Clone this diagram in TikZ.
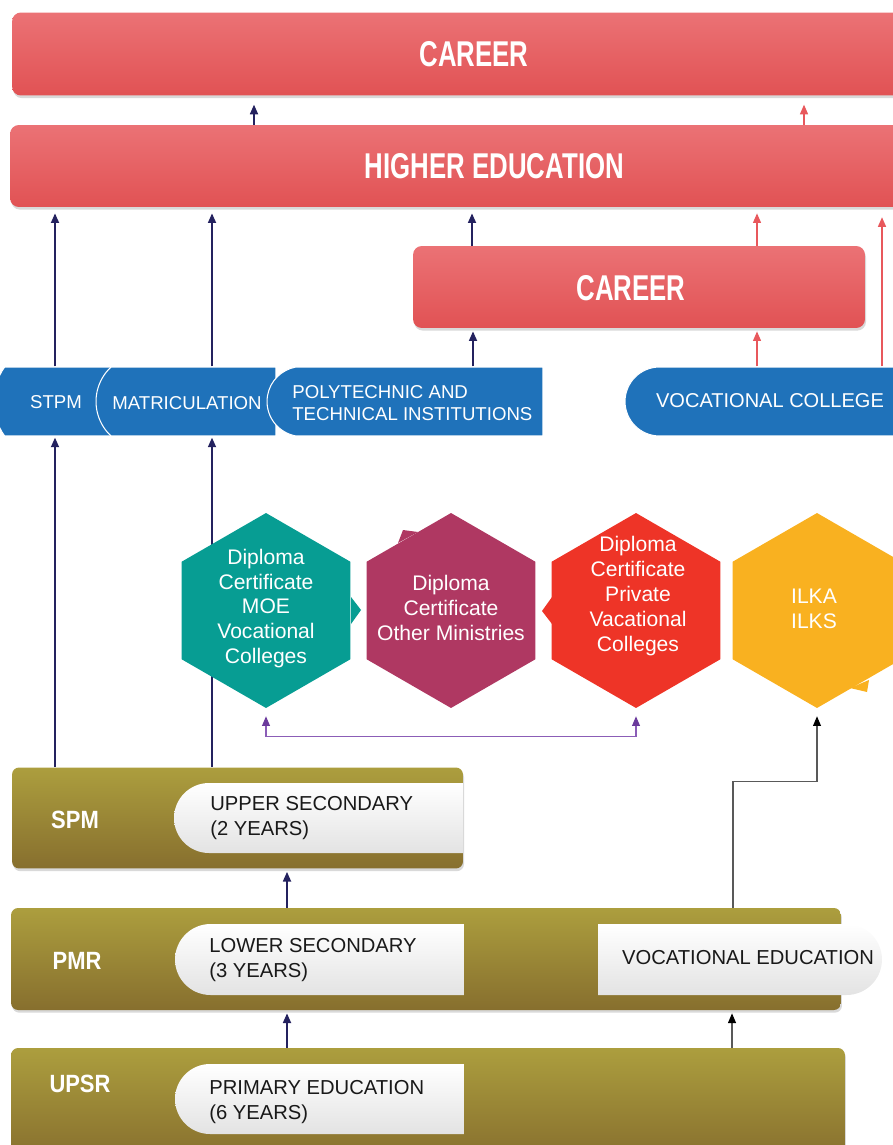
\documentclass[tikz,border=0pt]{standalone}
\usepackage{fontspec}
\setmainfont{Liberation Sans}
\newfontfamily\headfont{Liberation Sans Bold}[FakeStretch=0.72]
\newfontfamily\lblfont{Liberation Sans Bold}[FakeStretch=0.88]
\usepackage{tikz}
\usetikzlibrary{shapes.geometric, shapes.misc, arrows.meta, shadows, calc}

\definecolor{barred}{HTML}{EB7275}
\definecolor{barreddk}{HTML}{E15254}
\definecolor{tabblue}{HTML}{1F72BA}
\definecolor{hexteal}{HTML}{079D93}
\definecolor{hexplum}{HTML}{AF3862}
\definecolor{hexred}{HTML}{EE3427}
\definecolor{hexyel}{HTML}{F9B120}
\definecolor{arrnavy}{HTML}{24225F}
\definecolor{arrred}{HTML}{E8585C}
\definecolor{purline}{HTML}{8B5DB7}
\definecolor{purtip}{HTML}{6B3A9C}
\definecolor{goldlt}{HTML}{AC9E3E}
\definecolor{golddk}{HTML}{876F2E}

\begin{document}
\begin{tikzpicture}[
    x=0.02cm, y=-0.02cm,
    redbar/.style={rectangle, rounded corners=5pt, top color=barred, bottom color=barreddk, text=white, font=\headfont\fontsize{20.4}{24}\selectfont, drop shadow={shadow xshift=0.6pt, shadow yshift=-1.5pt, opacity=0.3}},
    headtext/.style={text=white, font=\headfont\fontsize{20.4}{24}\selectfont},
    tab/.style={rounded rectangle, rounded rectangle east arc=none, fill=tabblue, draw=white, line width=0.6pt, minimum height=1.38cm, inner sep=0pt, text=white, align=left, font=\fontsize{10.5}{12.5}\selectfont},
    tabtext/.style={text=white, align=left, inner sep=0pt, font=\fontsize{10.6}{12.5}\selectfont},
    hexa/.style={regular polygon, regular polygon sides=6, shape border rotate=90, minimum size=3.9cm, inner sep=0pt},
    hextext/.style={text=white, align=center, font=\fontsize{12}{14.2}\selectfont},
    goldbar/.style={rectangle, rounded corners=4pt, top color=goldlt, bottom color=golddk, drop shadow={shadow xshift=0.6pt, shadow yshift=-1.5pt, opacity=0.3}},
    inbox/.style={rounded rectangle, rounded rectangle east arc=none, top color=white, bottom color=black!11, minimum height=1.4cm, inner sep=0pt},
    intext/.style={anchor=west, align=left, inner sep=0pt, text=black!90, font=\fontsize{11.5}{14.2}\selectfont},
    lbl/.style={text=white, font=\lblfont\fontsize{14.2}{16}\selectfont},
    navyarr/.style={-{Triangle[length=5.5pt, width=4.5pt]}, line width=1.1pt, arrnavy, shorten >=1.7pt},
    redarr/.style={-{Triangle[length=5.5pt, width=4.5pt]}, line width=0.9pt, arrred, shorten >=1.7pt},
    greyarr/.style={-{Triangle[length=5.5pt, width=4.5pt, color=black]}, line width=0.6pt, black!65, shorten >=1.7pt},
    purparr/.style={{Triangle[length=5.5pt, width=4.5pt, color=purtip]}-{Triangle[length=5.5pt, width=4.5pt, color=purtip]}, line width=0.6pt, purline, shorten <=4.5pt, shorten >=4.5pt}
]
\useasboundingbox (0,0) rectangle (892,1145);

% red bars
\node[redbar, minimum width=18.48cm, minimum height=1.66cm] (career) at (474,54) {CAREER};
\node[redbar, minimum width=19.38cm, minimum height=1.64cm] (highered) at (494.5,166) {HIGHER EDUCATION};
\node[redbar, minimum width=9.04cm, minimum height=1.64cm] (career2) at (639,287) {};
\node[headtext] (career2-t) at (631,288) {CAREER};

% blue tabs
\node[tab, minimum width=1.96cm, rounded rectangle arc length=71] (stpm) at (53,401.5) {};
\node[tab, minimum width=3.6cm, rounded rectangle arc length=94] (matric) at (186,401.5) {};
\node[tab, minimum width=5.52cm, rounded rectangle arc length=160] (poly) at (405,401.5) {};
\node[tab, minimum width=5.8cm] (vcollege) at (770,401.5) {};
\node[tabtext] (stpm-t) at (56,402) {STPM};
\node[tabtext] (matric-t) at (187,403) {MATRICULATION};
\node[tabtext, anchor=west] (poly-t) at (292,403) {POLYTECHNIC AND\\TECHNICAL INSTITUTIONS};
\node[tabtext, font=\fontsize{11.4}{13}\selectfont] (vcollege-t) at (770,401) {VOCATIONAL COLLEGE};

% gold bars
\node[goldbar, minimum width=9.02cm, minimum height=2.02cm] (spm) at (237.5,818) {};
\node[inbox, minimum width=5.78cm] (upsec) at (318.5,818) {};
\node[lbl] (spm-l) at (75,820) {SPM};
\node[intext] (upsec-t) at (210,818.5) {UPPER SECONDARY\\(2 YEARS)};

\node[goldbar, minimum width=16.6cm, minimum height=2.04cm] (pmr) at (426,959) {};
\node[inbox, minimum width=5.78cm, minimum height=1.42cm] (lowsec) at (319.5,959.5) {};
\node[inbox, rounded rectangle west arc=none, rounded rectangle east arc=convex, minimum width=5.68cm, minimum height=1.42cm] (voced) at (740,959.5) {};
\node[lbl] (pmr-l) at (77,961) {PMR};
\node[intext] (lowsec-t) at (209,960) {LOWER SECONDARY\\(3 YEARS)};
\node[intext, anchor=center] (voced-t) at (748,958) {VOCATIONAL EDUCATION};

\node[goldbar, minimum width=16.68cm, minimum height=2.24cm] (upsr) at (428,1104) {};
\node[inbox, minimum width=5.78cm] (primary) at (319.5,1099) {};
\node[lbl] (upsr-l) at (80,1084) {UPSR};
\node[intext] (primary-t) at (209,1102) {PRIMARY EDUCATION\\(6 YEARS)};

% upward links
\draw[navyarr, shorten >=5pt] (254,0 |- highered.north) -- (254,0 |- career.south);
\draw[redarr, shorten >=5pt] (804,0 |- highered.north) -- (804,0 |- career.south);
\draw[navyarr, shorten >=3.4pt] (55,0 |- stpm.north) -- (55,0 |- highered.south);
\draw[navyarr, shorten >=3.4pt] (212,0 |- matric.north) -- (212,0 |- highered.south);
\draw[navyarr, shorten >=3.4pt] (472,0 |- career2.north) -- (472,0 |- highered.south);
\draw[redarr, shorten >=3.4pt] (757,0 |- career2.north) -- (757,0 |- highered.south);
\draw[redarr, shorten >=5.6pt] (882,0 |- vcollege.north) -- (882,0 |- highered.south);
\draw[navyarr] (473,0 |- poly.north) -- (473,0 |- career2.south);
\draw[redarr] (757,0 |- vcollege.north) -- (757,0 |- career2.south);
\draw[navyarr, shorten >=0.6pt] (55,0 |- spm.north) -- (55,0 |- stpm.south);
\draw[navyarr, shorten >=0.6pt] (212,0 |- spm.north) -- (212,0 |- matric.south);
\draw[navyarr] (287,0 |- pmr.north) -- (287,0 |- spm.south);
\draw[navyarr] (287,0 |- upsr.north) -- (287,0 |- pmr.south);
\draw[greyarr] (732,0 |- upsr.north) -- (732,0 |- pmr.south);

% hexagons
\node[hexa, fill=hexteal] (moe) at (266,610.5) {};
\node[hexa, fill=hexplum] (othermin) at (451,610.5) {};
\node[hexa, fill=hexred] (privcol) at (636,610.5) {};
\node[hexa, fill=hexyel] (ilka) at (817,610.5) {};
\fill[hexteal] (351,597) -- (361,610) -- (351,624) -- cycle;
\fill[hexred] (552,597) -- (542,611) -- (552,624) -- cycle;
\fill[hexplum] (398,543) -- (403,530) -- (418,532) -- cycle;
\fill[hexyel] (850,688) -- (867,692) -- (869,680) -- cycle;
\node[hextext] (moe-t) at (266,608.5) {Diploma\\Certificate\\MOE\\Vocational\\Colleges};
\node[hextext] (othermin-t) at (451,608) {Diploma\\Certificate\\Other Ministries};
\node[hextext] (privcol-t) at (638,596) {Diploma\\Certificate\\Private\\Vacational\\Colleges};
\node[hextext] (ilka-t) at (814,609) {ILKA\\ILKS};

\draw[purparr] (moe.south) -- ++(0,28) -| (privcol.south);
\draw[greyarr, shorten >=4.5pt] (733,0 |- pmr.north) -- ++(0,-126) -| (ilka.south);
\end{tikzpicture}
\end{document}
